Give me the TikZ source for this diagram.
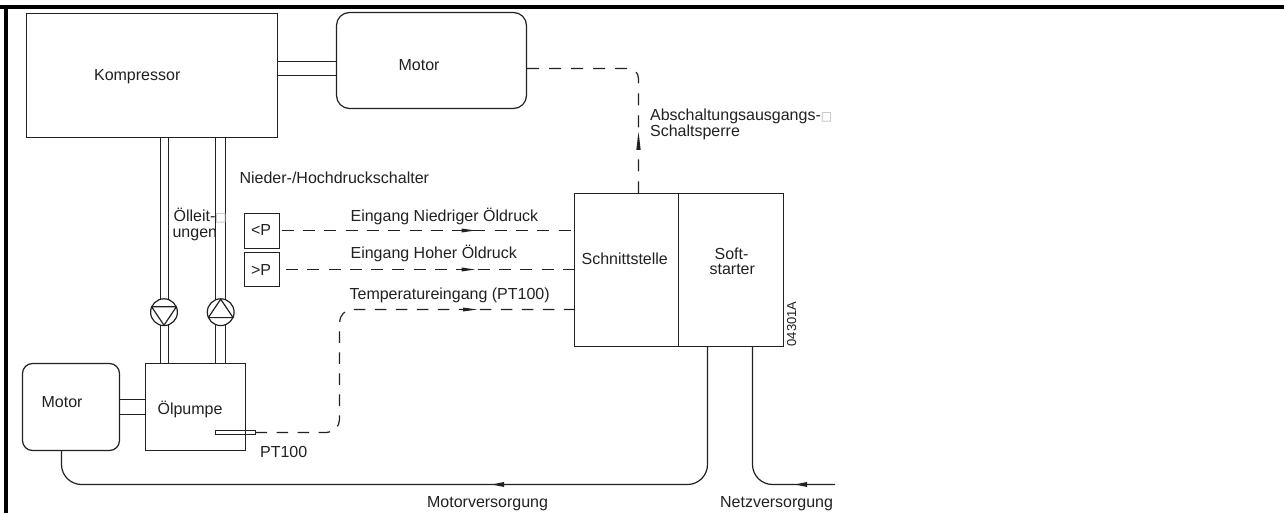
\documentclass[tikz,border=0pt]{standalone}
\usepackage{fontspec}
\setmainfont{Liberation Sans}
\newfontfamily\symfont{DejaVu Sans}
\definecolor{ink}{gray}{0.13}
\newcommand{\softhy}{{\symfont\fontsize{12}{12}\selectfont\textcolor{black!30}{□}}}
\tikzset{
  x=1pt,y=-1pt,
  lbl/.style={inner sep=0pt,anchor=base west,text=ink,font=\fontsize{16}{16}\selectfont,align=left},
  boxn/.style={draw=ink,rectangle,inner sep=0pt,outer sep=0pt},
  pumpn/.style={draw=ink,fill=white,circle,inner sep=0pt,outer sep=0pt,minimum size=26.8pt},
  dsh/.style={dash pattern=on 12pt off 9.3pt},
}
\begin{document}
\begin{tikzpicture}[line width=1.2pt,color=ink]
\useasboundingbox (0,0) rectangle (1284,513);
\fill[white] (0,0) rectangle (1284,513);
% frame
\fill[black] (0,5) rectangle (1284,9);
\fill[black] (4,5) rectangle (8,513);
% main boxes
\node[boxn,minimum width=251pt,minimum height=124pt] (komp) at (152,75.5) {};
\node[boxn,rounded corners=13pt,minimum width=190pt,minimum height=96pt] (motorA) at (431.5,60.5) {};
\node[boxn,minimum width=100pt,minimum height=87pt] (oil) at (195.5,407) {};
\node[boxn,rounded corners=10pt,minimum width=97pt,minimum height=87pt] (motorB) at (71,407) {};
\node[boxn,minimum width=104pt,minimum height=153pt] (iface) at (626.5,270) {};
\node[boxn,minimum width=105pt,minimum height=153pt] (soft) at (731,270) {};
\node[boxn,minimum width=35pt,minimum height=35pt] (lowp) at (262,231) {};
\node[boxn,minimum width=35pt,minimum height=34pt] (highp) at (262,269.5) {};
% pipes and shafts
\foreach \x in {160.5,168.5,215.5,225.5} \draw (komp.south -| \x,0) -- (oil.north -| \x,0);
\draw (komp.east |- 0,61.5) -- (motorA.west |- 0,61.5) (komp.east |- 0,75.5) -- (motorA.west |- 0,75.5);
\draw (motorB.east |- 0,399.5) -- (oil.west |- 0,399.5) (motorB.east |- 0,414.5) -- (oil.west |- 0,414.5);
% pumps
\node[pumpn] (pumpA) at (164,312.2) {};
\node[pumpn] (pumpB) at (220.7,312.2) {};
\draw[line join=round] (151.6,306.8) -- (176.4,306.8) -- (164,325.2) -- cycle;
\draw[line join=round] (208.3,317.6) -- (233.1,317.6) -- (220.7,299.2) -- cycle;
% sensor
\node[boxn,minimum width=40pt,minimum height=4pt,line width=1.1pt] (sensor) at (235.5,432.5) {};
% dashed signals
\draw[dsh,dash phase=19.1pt] (lowp.east |- 0,230.5) -- (iface.west |- 0,230.5);
\draw[dsh,dash phase=14.9pt] (highp.east) -- (iface.west |- highp.east);
\draw[dash pattern=on 11.5pt off 9.5pt,rounded corners=13pt] (sensor.east) -- (339.5,432.5) -- (339.5,309.5) -- (iface.west |- 0,309.5);
\draw[dash pattern=on 12pt off 10pt,rounded corners=10pt] (iface.north -| 638.5,0) -- (638.5,68.5) -- (motorA.east |- 0,68.5);
\fill (461.7,228.5) -- (475,230.5) -- (461.7,232.5) -- cycle;
\fill (461.7,267.5) -- (475,269.5) -- (461.7,271.5) -- cycle;
\fill (463,307.5) -- (477,309.5) -- (463,311.5) -- cycle;
\fill (636.3,150) -- (638.5,132) -- (640.7,150) -- cycle;
% supply lines
\coordinate (netz) at (835,484.5);
\draw[rounded corners=20pt] (motorB.south -| 61.5,0) -- (61.5,484.5) -- (707.5,484.5) -- (soft.south -| 707.5,0);
\draw[rounded corners=20pt] (soft.south -| 752.5,0) -- (752.5,484.5) -- (netz);
\fill (492,484.5) -- (504,482) -- (504,487) -- cycle;
\fill (795,484.5) -- (807,482) -- (807,487) -- cycle;
% labels
\node[lbl] (tK) at (93.5,80.5) {Kompressor};
\node[lbl] (tM1) at (398,71) {Motor};
\node[lbl] (tOil) at (157,414) {Ölpumpe};
\node[lbl] (tM2) at (41,407) {Motor};
\node[lbl] (tPT) at (259.5,457) {PT100};
\node[lbl] (tLP) at (250.5,235) {<P};
\node[lbl] (tHP) at (250.5,275) {>P};
\node[lbl] (tND) at (239,184) {Nieder-/Hochdruckschalter};
\node[lbl] (tOe1) at (173,221) {Ölleit-\rlap{\softhy}};
\node[lbl] (tOe2) at (172,237) {ungen};
\node[lbl] (tSS) at (581,264) {Schnittstelle};
\node[lbl] (tS1) at (714,259) {Soft-};
\node[lbl] (tS2) at (709,274.5) {starter};
\node[lbl,rotate=90,font=\fontsize{13}{13}\selectfont] (tNr) at (796,347) {04301A};
\node[lbl] (tE1) at (350,221) {Eingang Niedriger Öldruck};
\node[lbl] (tE2) at (350,258) {Eingang Hoher Öldruck};
\node[lbl] (tE3) at (349,299) {Temperatureingang (PT100)};
\node[lbl] (tA1) at (649.5,121) {Abschaltungsausgangs-\rlap{\softhy}};
\node[lbl] (tA2) at (649.5,137) {Schaltsperre};
\node[lbl] (tMV) at (426.5,507) {Motorversorgung};
\node[lbl] (tNV) at (719.5,507) {Netzversorgung};
\end{tikzpicture}
\end{document}
